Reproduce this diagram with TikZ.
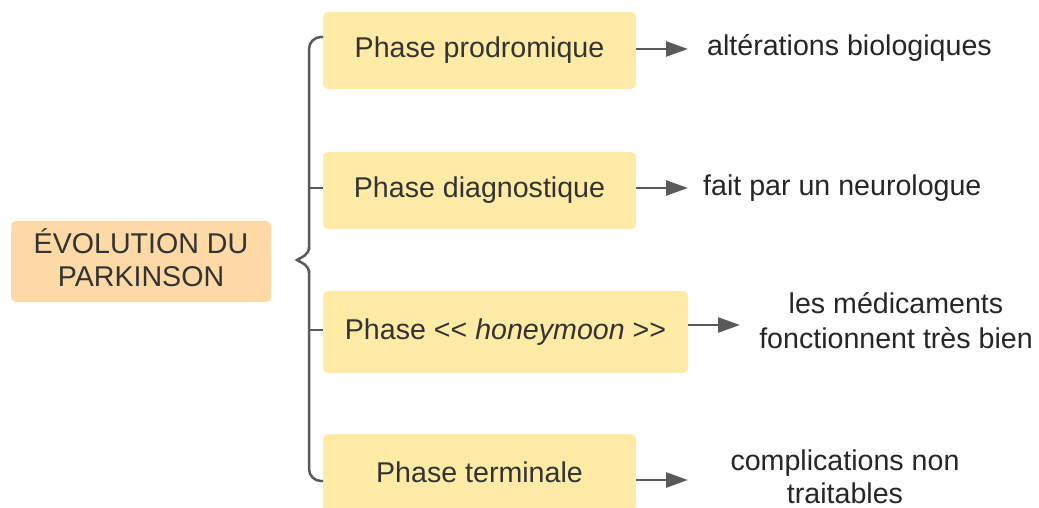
\documentclass[tikz,border=0pt]{standalone}
\usepackage{fontspec}
\setmainfont{Liberation Sans}
\usetikzlibrary{arrows.meta}
\definecolor{phasefill}{HTML}{FFEAA6}
\definecolor{rootfill}{HTML}{FDDAA5}
\definecolor{txt}{HTML}{333333}
\definecolor{linec}{HTML}{5A5A5A}
\tikzset{
  phasebox/.style={fill=phasefill, rounded corners=5pt, minimum height=77pt, text=txt, inner sep=0pt},
  rootbox/.style={fill=rootfill, rounded corners=5pt, minimum width=260pt, minimum height=81pt, text=txt, inner sep=0pt},
  outtext/.style={text=black!85, align=center, inner sep=0pt},
  arr/.style={draw=linec, line width=2.5pt, -{Triangle[length=22pt,width=15pt]}},
  bracec/.style={draw=linec, line width=2.5pt}
}
\begin{document}
\begin{tikzpicture}[x=1pt,y=-1pt, font=\fontsize{28.6}{33}\selectfont]
\clip (0,0) rectangle (1039,508);
\fill[white] (0,0) rectangle (1039,508);
% root
\node[rootbox] (root) at (141,261.5) {};
\node[text=txt, align=center, inner sep=0pt] (roottext) at (141,258) {ÉVOLUTION DU\\PARKINSON};
% phases
\node[phasebox, minimum width=313pt] (p1) at (479.5,50.5) {Phase prodromique};
\node[phasebox, minimum width=313pt] (p2) at (479.5,190.5) {Phase diagnostique};
\node[phasebox, minimum width=365pt, minimum height=82pt] (p3) at (505.5,332) {Phase <\kern0pt< \textit{honeymoon} >\kern0pt>};
\node[phasebox, minimum width=313pt] (p4) at (479.5,472.5) {Phase terminale};
% outputs
\node[outtext, anchor=west] (t1) at (707,48) {altérations biologiques};
\node[outtext, anchor=west] (t2) at (703,188) {fait par un neurologue};
\node[outtext, font=\fontsize{28.6}{35}\selectfont] (t3) at (896,321) {les médicaments\\fonctionnent très bien};
\node[outtext] (t4) at (845,477) {complications non\\traitables};
% brace
\draw[bracec, rounded corners=12pt] (323,37) -- (309,37) -- (309,250);
\draw[bracec] (309,247) .. controls (309,255) and (302,257) .. (297,260)
              .. controls (302,263) and (309,265) .. (309,273);
\draw[bracec, rounded corners=12pt] (309,271) -- (309,481) -- (323,481);
\draw[bracec] (309,188) -- (p2.west |- 0,188);
\draw[bracec] (309,330) -- (p3.west |- 0,330);
% arrows
\coordinate (e1) at (688,49);
\coordinate (e2) at (688,188);
\coordinate (e3) at (740,325);
\coordinate (e4) at (688,480);
\draw[arr] (p1.east |- e1) -- (e1);
\draw[arr] (p2.east |- e2) -- (e2);
\draw[arr] (p3.east |- e3) -- (e3);
\draw[arr] (p4.east |- e4) -- (e4);
\end{tikzpicture}
\end{document}
